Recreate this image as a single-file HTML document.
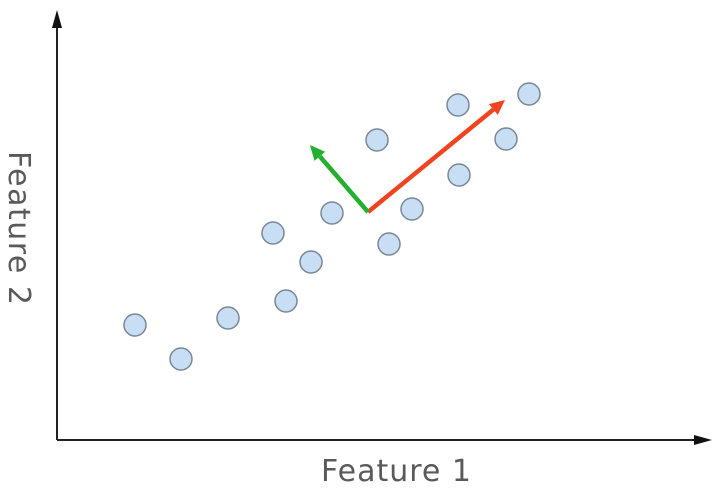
<!DOCTYPE html>
<html><head><meta charset="utf-8"><style>
html,body{margin:0;padding:0;background:#fff;}
svg{display:block;}
</style></head><body>
<svg id="chart" width="720" height="493" viewBox="0 0 720 493">
<line x1="57" y1="440" x2="57" y2="14" stroke="#222" stroke-width="2"/>
<polygon points="57,10 52,28 62,28" fill="#111"/>
<line x1="57" y1="440" x2="700" y2="440" stroke="#222" stroke-width="2"/>
<polygon points="712,440 694,435 694,445" fill="#111"/>
<text x="396" y="481" font-family="DejaVu Sans, sans-serif" font-size="30" fill="#5a5a5a" text-anchor="middle" textLength="150">Feature 1</text>
<text transform="translate(9,228) rotate(90)" font-family="DejaVu Sans, sans-serif" font-size="30" fill="#5a5a5a" text-anchor="middle" textLength="154">Feature 2</text>
<g id="points"></g>
<g id="vectors"></g>
</svg>
<script>
const xValues = [78, 124, 171, 216, 229, 254, 275, 320, 332, 355, 401, 402, 449, 472];
const yValues = [115, 81, 122, 207, 139, 178, 227, 300, 196, 231, 335, 265, 301, 346];
const vectorOrigin = [311, 228];
const vectorEnds = [[448, 340], [253, 295]];
const vectorColors = ['#f04420', '#22b02e'];
const vectorNames = ['principal-component-1', 'principal-component-2'];

const xScale = v => 57 + v;
const yScale = v => 440 - v;
const ns = 'http://www.w3.org/2000/svg';
const pg = document.getElementById('points');
for (let i = 0; i < xValues.length; i++) {
  const c = document.createElementNS(ns, 'circle');
  c.setAttribute('cx', xScale(xValues[i]));
  c.setAttribute('cy', yScale(yValues[i]));
  c.setAttribute('r', 11);
  c.setAttribute('fill', '#c8def4');
  c.setAttribute('stroke', '#7a8794');
  c.setAttribute('stroke-width', 1.5);
  
  
  pg.appendChild(c);
}
const vg = document.getElementById('vectors');
for (let i = 0; i < vectorEnds.length; i++) {
  const x1 = xScale(vectorOrigin[0]), y1 = yScale(vectorOrigin[1]);
  const x2 = xScale(vectorEnds[i][0]), y2 = yScale(vectorEnds[i][1]);
  const ang = Math.atan2(y2 - y1, x2 - x1);
  const L = 15, W = 7;
  const bx = x2 - L * Math.cos(ang), by = y2 - L * Math.sin(ang);
  const l = document.createElementNS(ns, 'line');
  l.setAttribute('x1', x1); l.setAttribute('y1', y1);
  l.setAttribute('x2', bx); l.setAttribute('y2', by);
  l.setAttribute('stroke', vectorColors[i]);
  l.setAttribute('stroke-width', 4.5);
  
  
  vg.appendChild(l);
  const p = document.createElementNS(ns, 'polygon');
  const px = -Math.sin(ang) * W, py = Math.cos(ang) * W;
  p.setAttribute('points', `${x2},${y2} ${bx + px},${by + py} ${bx - px},${by - py}`);
  p.setAttribute('fill', vectorColors[i]);
  
  
  vg.appendChild(p);
}
</script>
</body></html>
